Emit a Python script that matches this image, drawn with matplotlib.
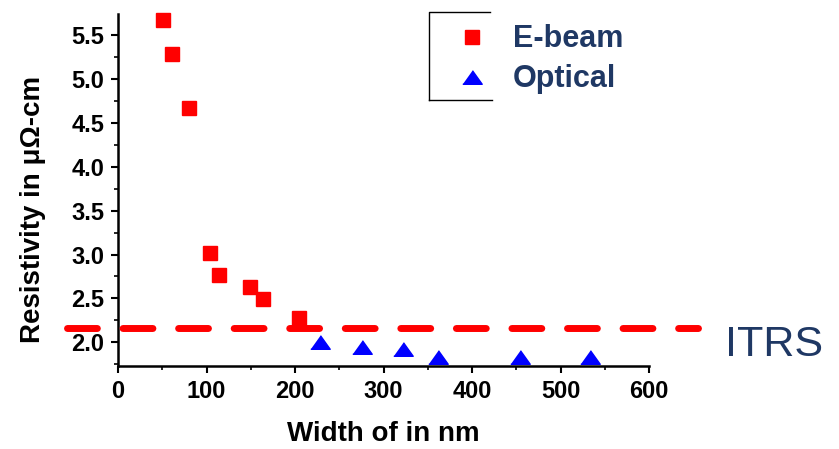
import matplotlib.pyplot as plt
from matplotlib.lines import Line2D
from matplotlib.ticker import MultipleLocator

plt.rcParams['font.family'] = ['Liberation Sans', 'DejaVu Sans']

# E-beam samples
ebeam_width = [51, 61, 80, 104, 114, 149, 164, 204]
ebeam_res = [5.67, 5.29, 4.67, 3.02, 2.77, 2.63, 2.49, 2.28]

# optical samples
optical_width = [228, 276, 322, 362, 454, 533]
optical_res = [2.00, 1.95, 1.92, 1.83, 1.83, 1.83]

itrs_level = 2.16
navy = '#1F3864'

fig = plt.figure(figsize=(8.39, 4.49), dpi=100)
ax = fig.add_axes([118/839, 1 - 366/449, 531/839, 352/449])

tri = [(-1, -0.7), (1, -0.7), (0, 0.7)]
ax.plot(ebeam_width, ebeam_res, 's', color='#FF0000', markersize=10, label='E-beam', clip_on=False, zorder=3)
ax.plot(optical_width, optical_res, marker=tri, linestyle='none', color='#0000FF', markersize=14, label='Optical', clip_on=False, zorder=3)

# ITRS target line, runs past the axes on both sides
ax.plot([-0.096, 1.092], [itrs_level, itrs_level], transform=ax.get_yaxis_transform(),
        color='#FF0000', lw=5, linestyle=(0, (4.3, 3.7)), dash_capstyle='round',
        solid_capstyle='round', clip_on=False, zorder=4)

ax.set_xlim(0, 600)
ax.set_ylim(1.73, 5.74)
ax.xaxis.set_major_locator(MultipleLocator(100))
ax.xaxis.set_minor_locator(MultipleLocator(50))
ax.yaxis.set_major_locator(MultipleLocator(0.5))
ax.yaxis.set_minor_locator(MultipleLocator(0.25))
ax.yaxis.set_major_formatter(plt.FormatStrFormatter('%.1f'))

for s in ['top', 'right']:
    ax.spines[s].set_visible(False)
for s in ['left', 'bottom']:
    ax.spines[s].set_linewidth(1.8)

ax.tick_params(which='major', direction='out', length=5, width=1.5, pad=5, labelsize=17)
ax.tick_params(which='minor', direction='out', length=3, width=1.2)
for lab in ax.get_xticklabels() + ax.get_yticklabels():
    lab.set_fontweight('bold')

ax.set_xlabel('Width of in nm', fontsize=20, fontweight='bold', labelpad=13)
ax.set_ylabel('Resistivity in μΩ-cm', fontsize=20, fontweight='bold')
ax.yaxis.set_label_coords(-0.136, 0.445)

leg = ax.legend(loc='upper left', bbox_to_anchor=(441/839, 1 - 9/449), bbox_transform=fig.transFigure,
                frameon=False, borderpad=0, handlelength=1.0, handletextpad=0.85,
                labelspacing=0.33, prop={'size': 22, 'weight': 'bold'})
for t in leg.get_texts():
    t.set_color(navy)

# partial box around the legend
fig.add_artist(Line2D([429/839, 429/839, 490/839], [1 - 100/449, 1 - 12/449, 1 - 12/449], color='black', lw=1))
fig.add_artist(Line2D([429/839, 492/839], [1 - 100/449, 1 - 100/449], color='black', lw=1))

fig.text(725/839, 1 - 345/449, 'ITRS', fontsize=31, color=navy, va='center', ha='left')

fig.savefig('out.png', dpi=100)
